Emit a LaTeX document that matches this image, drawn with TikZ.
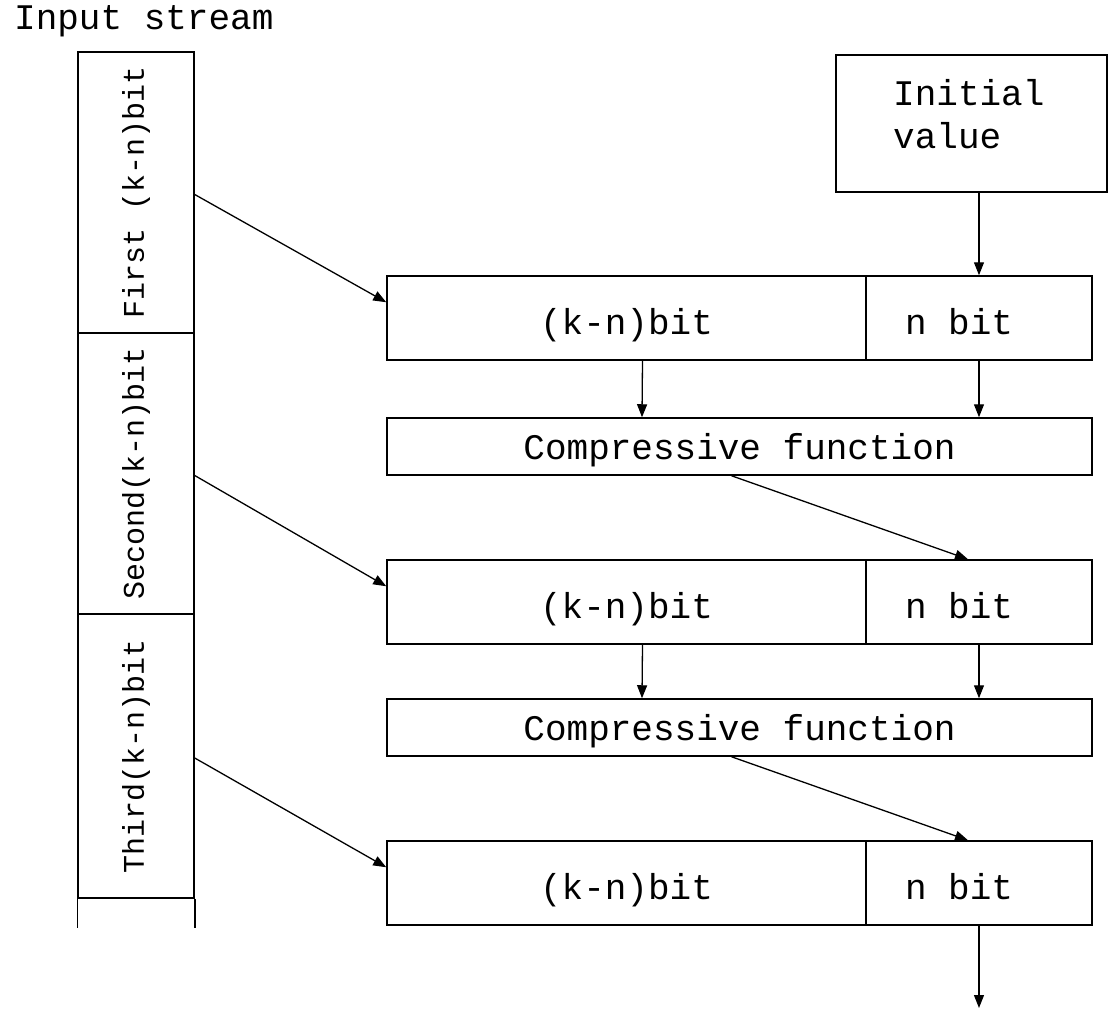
\documentclass[tikz,border=0pt]{standalone}
\usepackage{fontspec}
\setmainfont{Liberation Mono}
\setmonofont{Liberation Mono}
\usetikzlibrary{arrows.meta,calc}
\begin{document}
\begin{tikzpicture}[x=1pt,y=-1pt,
  box/.style={draw, line width=1.5pt, inner sep=0pt, font=\fontsize{36}{40}\selectfont\ttfamily},
  rowa/.style={box, minimum width=479pt, minimum height=84pt, text height=32pt, text depth=0pt},
  rowb/.style={rowa, minimum width=226pt},
  cbox/.style={box, minimum width=705pt, minimum height=57pt, text height=26pt, text depth=0pt},
  seg/.style={box, minimum width=116pt, font=\fontsize{30}{34}\selectfont\ttfamily},
  arr/.style={line width=1.3pt, -{Triangle[length=13pt,width=10pt]}},
  lbl/.style={font=\fontsize{36}{43}\selectfont\ttfamily, inner sep=0pt}]
\useasboundingbox (0,0) rectangle (1109,1012);

\node[lbl, anchor=base west] (title) at (14,29) {Input stream};

% input stream column
\node[seg, minimum height=281pt] (s1) at (136,192.5) {\rotatebox{90}{First (k-n)bit}};
\node[seg, minimum height=281pt] (s2) at (136,473.5) {\rotatebox{90}{Second(k-n)bit}};
\node[seg, minimum height=284pt] (s3) at (136,756) {\rotatebox{90}{Third(k-n)bit}};
\draw[line width=1.5pt] (s3.south west) -- ++(0,29);
\draw[line width=1.5pt] (s3.south east) -- ++(0,29);

% initial value
\node[box, minimum width=271pt, minimum height=137pt] (init) at (971.5,123.5) {};
\node[lbl, anchor=base west, align=left] (initlbl) at (893,148) {Initial\\value};

% rows
\node[rowa] (r1a) at (626.5,318) {(k-n)bit};
\node[rowb] (r1b) at (979,318) {n bit\kern40pt};
\node[cbox] (c1) at (739.5,446.5) {Compressive function};
\node[rowa] (r2a) at (626.5,602) {(k-n)bit};
\node[rowb] (r2b) at (979,602) {n bit\kern40pt};
\node[cbox] (c2) at (739.5,727.5) {Compressive function};
\node[rowa] (r3a) at (626.5,883) {(k-n)bit};
\node[rowb] (r3b) at (979,883) {n bit\kern40pt};
\coordinate (out) at (979,1008);

% arrows
\draw[arr] (init.south -| r1b.north) -- (r1b.north);
\draw[arr] ($(r1a.south)+(16,0)$) -- ($(c1.north)+(-97.5,0)$);
\draw[arr] (r1b.south) -- (r1b.south |- c1.north);
\draw[arr] ($(c1.south)+(-8,0)$) -- ($(r2b.north)+(-11,0)$);
\draw[arr] ($(r2a.south)+(16,0)$) -- ($(c2.north)+(-97.5,0)$);
\draw[arr] (r2b.south) -- (r2b.south |- c2.north);
\draw[arr] ($(c2.south)+(-8,0)$) -- ($(r3b.north)+(-11,0)$);
\draw[arr] (r3b.south) -- (out);

\draw[arr] ($(s1.east)+(0,2)$) -- ($(r1a.north west)+(0,27)$);
\draw[arr] ($(s2.east)+(0,2)$) -- ($(r2a.north west)+(0,27)$);
\draw[arr] ($(s3.east)+(0,2)$) -- ($(r3a.north west)+(0,27)$);
\end{tikzpicture}
\end{document}
